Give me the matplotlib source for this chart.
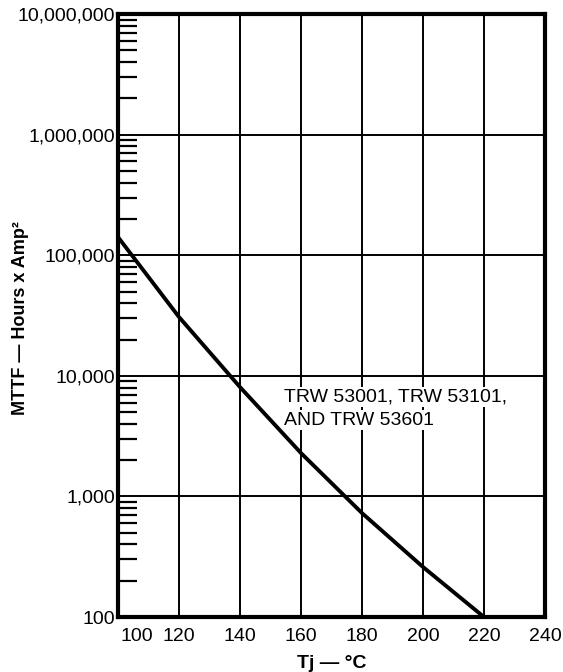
import numpy as np
import matplotlib.pyplot as plt
from matplotlib.ticker import FixedLocator, LogLocator, NullFormatter
from matplotlib import transforms

# values
tj = [100, 120, 140, 160, 180, 200, 220]
mttf = [141600, 30760, 8070, 2290, 728, 260, 100]

x_ticks = [100, 120, 140, 160, 180, 200, 220, 240]
y_ticks = [100, 1000, 10000, 100000, 1000000, 10000000]
y_labels = ["100", "1,000", "10,000", "100,000", "1,000,000", "10,000,000"]

plt.rcParams['font.family'] = ['Liberation Sans', 'DejaVu Sans']

fig = plt.figure(figsize=(5.63, 6.72), dpi=100)
ax = fig.add_axes([0.2096, 0.0818, 0.7584, 0.8972])

ax.set_yscale('log')
ax.set_xlim(100, 240)
ax.set_ylim(100, 10000000)

ax.plot(tj, mttf, color='black', lw=2.8, solid_capstyle='butt', zorder=3)

ax.xaxis.set_major_locator(FixedLocator(x_ticks))
ax.set_xticklabels([str(v) for v in x_ticks], fontsize=14)
ax.yaxis.set_major_locator(FixedLocator(y_ticks))
ax.set_yticklabels(y_labels, fontsize=14)
ax.yaxis.set_minor_locator(LogLocator(base=10, subs=np.arange(2, 10)))
ax.yaxis.set_minor_formatter(NullFormatter())

ax.grid(True, which='major', color='black', lw=1.4)
ax.tick_params(axis='both', which='major', length=0, pad=2)
ax.tick_params(axis='y', which='minor', direction='in', length=14, width=1.6, color='black')
ax.tick_params(axis='x', which='major', pad=8)

# first x label sits to the right of the corner
first = ax.get_xticklabels()[0]
first.set_horizontalalignment('left')
first.set_transform(first.get_transform() + transforms.ScaledTranslation(0.02, 0, fig.dpi_scale_trans))

for s in ax.spines.values():
    s.set_linewidth(3)

txt_box = dict(facecolor='white', edgecolor='none', pad=1)
ax.text(154.5, 6700, "TRW 53001, TRW 53101,", fontsize=14, va='center', ha='left', bbox=txt_box, zorder=4)
ax.text(154.5, 4300, "AND TRW 53601", fontsize=14, va='center', ha='left', bbox=txt_box, zorder=4)

ax.set_xlabel("Tj — °C", fontsize=14, fontweight='bold', labelpad=7)
fig.text(0.036, 0.527, "MTTF — Hours x Amp²", fontsize=13, fontweight='bold',
         rotation=90, ha='center', va='center')

fig.savefig("out.png", dpi=100)
